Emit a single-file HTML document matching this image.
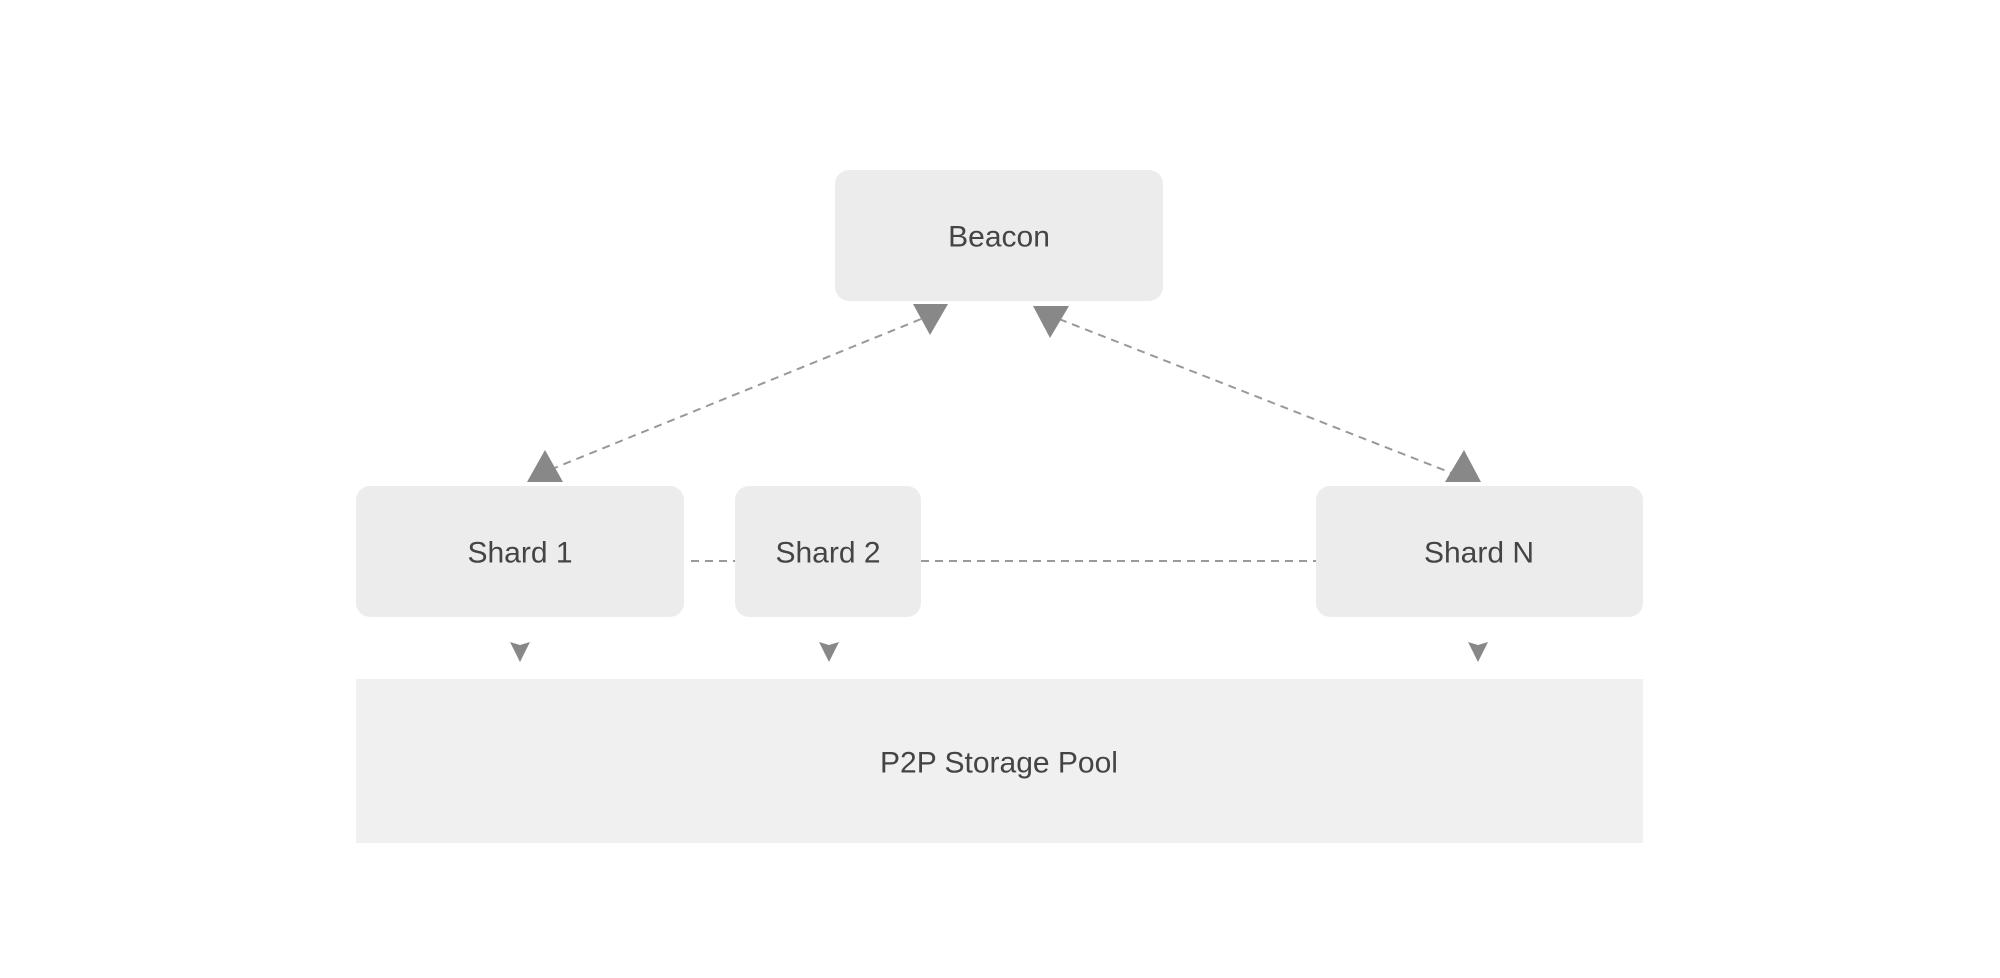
<!DOCTYPE html>
<html><head><meta charset="utf-8"><style>
body{margin:0;width:2000px;height:978px;background:#fff;overflow:hidden}
svg{display:block}
text{font-family:"Liberation Sans",sans-serif;font-size:30px;fill:#444;text-anchor:middle;dominant-baseline:central}
</style></head><body>
<svg width="2000" height="978" viewBox="0 0 2000 978">
<rect x="835" y="170" width="328" height="131" rx="14" fill="#ececec"/>
<rect x="356" y="486" width="328" height="131" rx="14" fill="#ececec"/>
<rect x="735" y="486" width="186" height="131" rx="14" fill="#ececec"/>
<rect x="1316" y="486" width="327" height="131" rx="14" fill="#ececec"/>
<rect x="356" y="679" width="1287" height="164" fill="#f0f0f0"/>
<text x="999" y="237">Beacon</text>
<text x="520" y="553">Shard 1</text>
<text x="828" y="553">Shard 2</text>
<text x="1479" y="553">Shard N</text>
<text x="999" y="763">P2P Storage Pool</text>
<g stroke="#999" stroke-width="2" stroke-dasharray="8,6" fill="none">
<line x1="691" y1="561" x2="735" y2="561"/>
<line x1="921" y1="561" x2="1316" y2="561"/>
<line x1="921" y1="319" x2="552" y2="469"/>
<line x1="1059" y1="319" x2="1454" y2="474"/>
</g>
<g fill="#888">
<polygon points="913,304 948,304 930,335"/>
<polygon points="527,482 563,482 545,450"/>
<polygon points="1033,306 1069,306 1050,338"/>
<polygon points="1445,482 1481,482 1464,450"/>
<polygon points="510,642 520,645 530,642 520,662"/>
<polygon points="819,642 829,645 839,642 829,662"/>
<polygon points="1468,642 1478,645 1488,642 1478,662"/>
</g>
</svg>
</body></html>
